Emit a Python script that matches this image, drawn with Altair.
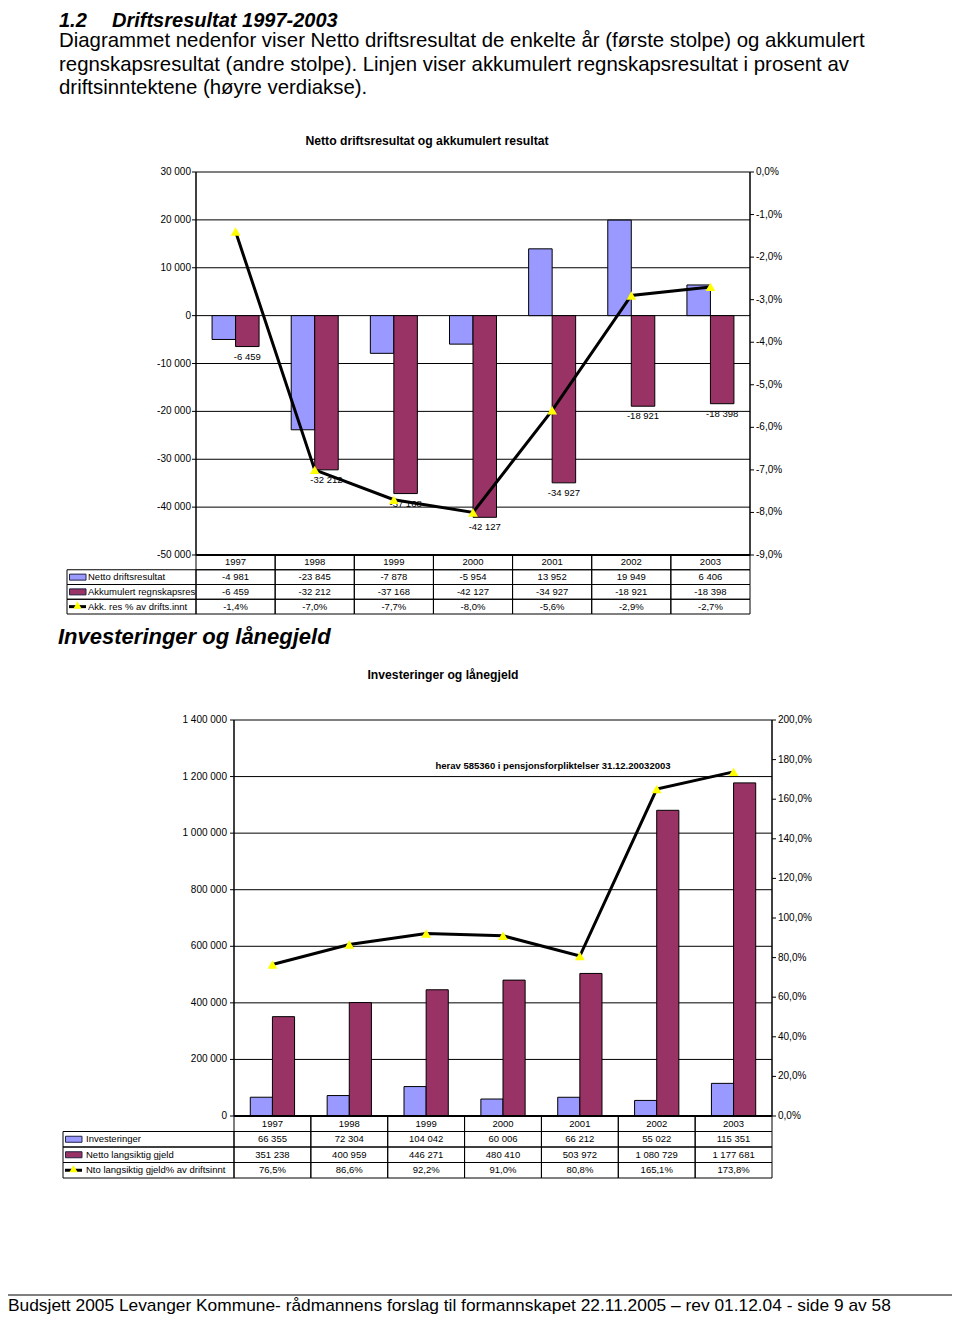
import altair as alt
import pandas as pd

# ---------------- data ----------------
years = ["1997", "1998", "1999", "2000", "2001", "2002", "2003"]

netto_driftsresultat = [-4981, -23845, -7878, -5954, 13952, 19949, 6406]
akkumulert_regnskapsres = [-6459, -32212, -37168, -42127, -34927, -18921, -18398]
akk_res_pct = [-1.4, -7.0, -7.7, -8.0, -5.6, -2.9, -2.7]

investeringer = [66355, 72304, 104042, 60006, 66212, 55022, 115351]
netto_langsiktig_gjeld = [351238, 400959, 446271, 480410, 503972, 1080729, 1177681]
gjeld_pct = [76.5, 86.6, 92.2, 91.0, 80.8, 165.1, 173.8]

left_ticks_1 = [30000, 20000, 10000, 0, -10000, -20000, -30000, -40000, -50000]
right_ticks_1 = [0, -1, -2, -3, -4, -5, -6, -7, -8, -9]
left_ticks_2 = [0, 200000, 400000, 600000, 800000, 1000000, 1200000, 1400000]
right_ticks_2 = [0, 20, 40, 60, 80, 100, 120, 140, 160, 180, 200]

series_1 = ["Netto driftsresultat", "Akkumulert regnskapsres", "Akk. res % av drifts.innt"]
series_2 = ["Investeringer", "Netto langsiktig gjeld", "Nto langsiktig gjeld% av driftsinnt"]

heading_no = "1.2"
heading_1 = "Driftsresultat 1997-2003"
intro_lines = [
    "Diagrammet nedenfor viser Netto driftsresultat de enkelte år (første stolpe) og akkumulert",
    "regnskapsresultat (andre stolpe). Linjen viser akkumulert regnskapsresultat i prosent av",
    "driftsinntektene (høyre verdiakse).",
]
title_1 = "Netto driftsresultat og akkumulert resultat"
heading_2 = "Investeringer og lånegjeld"
title_2 = "Investeringer og lånegjeld"
note_2 = "herav 585360 i pensjonsforpliktelser 31.12.20032003"
footer = "Budsjett 2005 Levanger Kommune- rådmannens forslag til formannskapet 22.11.2005 – rev 01.12.04  -  side 9 av 58"

# ---------------- style / layout ----------------
FONT = "Liberation Sans"
BLUE = "#9999FF"
MAROON = "#993366"
YELLOW = "#FFFF00"
OFF = 8  # page margin: page coordinate -> svg coordinate


def px(v):
    return v - OFF


def fmt_int(v):
    s = f"{abs(v):,}".replace(",", " ")
    return ("-" if v < 0 else "") + s


def fmt_pct(v):
    return f"{v:.1f}".replace(".", ",") + "%"


def txt(s, x, y, size, weight="normal", style="normal", align="left", baseline="middle"):
    return alt.Chart(pd.DataFrame({"t": [s]})).mark_text(
        font=FONT, fontSize=size, fontWeight=weight, fontStyle=style,
        align=align, baseline=baseline, color="black"
    ).encode(x=alt.value(px(x)), y=alt.value(px(y)), text="t:N")


def hrule(x0, x1, y, w=1.0, color="black"):
    return alt.Chart(pd.DataFrame({"k": [0]})).mark_rule(color=color, strokeWidth=w).encode(
        x=alt.value(px(x0)), x2=alt.value(px(x1)), y=alt.value(px(y)))


def vrule(x, y0, y1, w=1.0):
    return alt.Chart(pd.DataFrame({"k": [0]})).mark_rule(color="black", strokeWidth=w).encode(
        x=alt.value(px(x)), y=alt.value(px(y0)), y2=alt.value(px(y1)))


def panel(c, bar_a, bar_b, pct, lt, rt, ldom, rdom, lfmt, rfmt, series, pin, bar_labels):
    step = (c["x1"] - c["x0"]) / len(years)
    bw = step * (1 - pin)

    def xs():
        return alt.Scale(domain=years, range=[px(c["x0"]), px(c["x1"])],
                         paddingInner=pin, paddingOuter=pin / 2)

    def xt():
        return alt.Scale(domain=years, range=[px(c["x0"]), px(c["x1"])],
                         paddingInner=0, paddingOuter=0)

    def ys():
        return alt.Scale(domain=ldom, range=[px(c["ybot"]), px(c["ytop"])], nice=False, zero=False)

    def rs():
        return alt.Scale(domain=rdom, range=[px(c["ybot"]), px(c["ytop"])], nice=False, zero=False)

    def offs():
        return alt.Scale(domain=["a", "b"], range=[0, bw], paddingInner=0, paddingOuter=0)

    L = []
    # gridlines
    L.append(alt.Chart(pd.DataFrame({"t": lt})).mark_rule(color="black", strokeWidth=1).encode(
        y=alt.Y("t:Q", scale=ys(), axis=None),
        x=alt.value(px(c["x0"])), x2=alt.value(px(c["x1"]))))
    # bars
    bdf = pd.DataFrame({"year": years * 2, "v": bar_a + bar_b, "s": ["a"] * 7 + ["b"] * 7})
    L.append(alt.Chart(bdf).mark_bar(stroke="black", strokeWidth=1).encode(
        x=alt.X("year:N", scale=xs(), axis=None),
        xOffset=alt.XOffset("s:N", scale=offs()),
        y=alt.Y("v:Q", scale=ys(), axis=None, stack=None),
        y2=alt.datum(0),
        color=alt.Color("s:N", scale=alt.Scale(domain=["a", "b"], range=[BLUE, MAROON]), legend=None)))
    if bar_labels:
        ldf = pd.DataFrame({"year": years, "v": bar_b, "t": [fmt_int(v) for v in bar_b]})
        L.append(alt.Chart(ldf).mark_text(font=FONT, fontSize=9.5, baseline="middle", dy=10,
                                          dx=bw / 4, color="black").encode(
            x=alt.X("year:N", scale=xs(), axis=None),
            y=alt.Y("v:Q", scale=ys(), axis=None),
            text="t:N"))
    # axis lines
    L.append(vrule(c["x0"], c["ytop"], c["ybot"], 1.5))
    L.append(vrule(c["x1"], c["ytop"], c["ybot"], 1.5))
    L.append(hrule(c["x0"], c["x1"], c["axis_y"], 2))
    # ticks + tick labels
    L.append(alt.Chart(pd.DataFrame({"t": lt})).mark_rule(color="black").encode(
        y=alt.Y("t:Q", scale=ys(), axis=None),
        x=alt.value(px(c["x0"] - 4)), x2=alt.value(px(c["x0"]))))
    L.append(alt.Chart(pd.DataFrame({"t": rt})).mark_rule(color="black").encode(
        y=alt.Y("t:Q", scale=rs(), axis=None),
        x=alt.value(px(c["x1"])), x2=alt.value(px(c["x1"] + 4))))
    L.append(alt.Chart(pd.DataFrame({"t": lt, "lab": [lfmt(v) for v in lt]})).mark_text(
        font=FONT, fontSize=10, align="right", baseline="middle", color="black").encode(
        y=alt.Y("t:Q", scale=ys(), axis=None), x=alt.value(px(c["x0"] - c["lgap"])), text="lab:N"))
    L.append(alt.Chart(pd.DataFrame({"t": rt, "lab": [rfmt(v) for v in rt]})).mark_text(
        font=FONT, fontSize=10, align="left", baseline="middle", color="black").encode(
        y=alt.Y("t:Q", scale=rs(), axis=None), x=alt.value(px(c["x1"] + 6)), text="lab:N"))

    # data table
    rows = ["h", "r1", "r2", "r3"]
    tys = lambda: alt.Scale(domain=rows, range=[px(c["ybot"]), px(c["tbot"])],
                            paddingInner=0, paddingOuter=0)
    cell_txt = (years + [fmt_int(v) for v in bar_a] + [fmt_int(v) for v in bar_b]
                + [fmt_pct(v) for v in pct])
    tdf = pd.DataFrame({"year": years * 4, "row": sum([[r] * 7 for r in rows], []), "t": cell_txt})
    L.append(alt.Chart(tdf).mark_rect(fillOpacity=0, stroke="black", strokeWidth=1).encode(
        x=alt.X("year:N", scale=xt(), axis=None), y=alt.Y("row:N", scale=tys(), axis=None)))
    L.append(alt.Chart(tdf).mark_text(font=FONT, fontSize=9.5, baseline="middle",
                                      color="black").encode(
        x=alt.X("year:N", scale=xt(), axis=None), y=alt.Y("row:N", scale=tys(), axis=None),
        text="t:N"))
    sdf = pd.DataFrame({"row": rows[1:], "t": series})
    L.append(alt.Chart(sdf).mark_rect(fillOpacity=0, stroke="black", strokeWidth=1).encode(
        x=alt.value(px(c["legx0"])), x2=alt.value(px(c["x0"])),
        y=alt.Y("row:N", scale=tys(), axis=None)))
    L.append(alt.Chart(sdf).mark_text(font=FONT, fontSize=9.5, align="left", baseline="middle",
                                      color="black").encode(
        x=alt.value(px(c["legx0"] + c["ltxt"])), y=alt.Y("row:N", scale=tys(), axis=None),
        text="t:N"))
    rh = (c["tbot"] - c["ybot"]) / 4
    for i, col in enumerate([BLUE, MAROON]):
        yc = c["ybot"] + rh * (i + 1.5)
        L.append(alt.Chart(pd.DataFrame({"k": [0]})).mark_rect(
            fill=col, stroke="#222244", strokeWidth=1).encode(
            x=alt.value(px(c["legx0"] + 2.5)), x2=alt.value(px(c["legx0"] + 19)),
            y=alt.value(px(yc - 3)), y2=alt.value(px(yc + 3))))
    yc = c["ybot"] + rh * 3.5
    L.append(hrule(c["legx0"] + 2, c["legx0"] + 19, yc, 3))
    L.append(alt.Chart(pd.DataFrame({"k": [0]})).mark_point(
        shape="triangle-up", filled=True, fill=YELLOW, opacity=1, size=70, strokeWidth=0).encode(
        x=alt.value(px(c["legx0"] + 10.5)), y=alt.value(px(yc - 1.5))))

    # line on secondary axis
    pdf = pd.DataFrame({"year": years, "p": pct})
    L.append(alt.Chart(pdf).mark_line(color="black", strokeWidth=3).encode(
        x=alt.X("year:N", scale=xs(), axis=None), y=alt.Y("p:Q", scale=rs(), axis=None)))
    L.append(alt.Chart(pdf).mark_point(shape="triangle-up", filled=True, fill=YELLOW, opacity=1,
                                       size=95, strokeWidth=0).encode(
        x=alt.X("year:N", scale=xs(), axis=None), y=alt.Y("p:Q", scale=rs(), axis=None)))
    return L


C1 = dict(x0=196, x1=750, ytop=172, ybot=555, tbot=614, legx0=67, axis_y=555, lgap=5, ltxt=21)
C2 = dict(x0=234, x1=772, ytop=720, ybot=1116, tbot=1178, legx0=63, axis_y=1116, lgap=7, ltxt=23)

layers = []
layers.append(txt(heading_no, 59, 26.5, 20, "bold", "italic", baseline="alphabetic"))
layers.append(txt(heading_1, 112, 26.5, 20, "bold", "italic", baseline="alphabetic"))
for i, line in enumerate(intro_lines):
    layers.append(txt(line, 59, 41 + 23.5 * i, 20.4))
layers.append(txt(title_1, 427, 141, 12.2, "bold", align="center"))
layers += panel(C1, netto_driftsresultat, akkumulert_regnskapsres, akk_res_pct,
                left_ticks_1, right_ticks_1, [-50000, 30000], [-9, 0],
                fmt_int, lambda v: fmt_pct(v), series_1, 0.406, True)
layers.append(txt(heading_2, 58, 637, 22, "bold", "italic"))
layers.append(txt(title_2, 443, 675, 12.2, "bold", align="center"))
layers += panel(C2, investeringer, netto_langsiktig_gjeld, gjeld_pct,
                left_ticks_2, right_ticks_2, [0, 1400000], [0, 200],
                fmt_int, lambda v: fmt_pct(v), series_2, 0.424, False)
layers.append(txt(note_2, 553, 766, 9.5, "bold", align="center"))
layers.append(hrule(8, 957, 1295, 1))
layers.append(txt(footer, 8, 1306, 17.35))

chart = alt.layer(*layers).resolve_scale(
    x="independent", y="independent", xOffset="independent", color="independent"
).properties(
    width=944, height=1309, padding=0, autosize=alt.AutoSizeParams(type="none")
).configure_view(stroke=None)

chart.save("out.html", embed_options={"renderer": "svg", "actions": False})
